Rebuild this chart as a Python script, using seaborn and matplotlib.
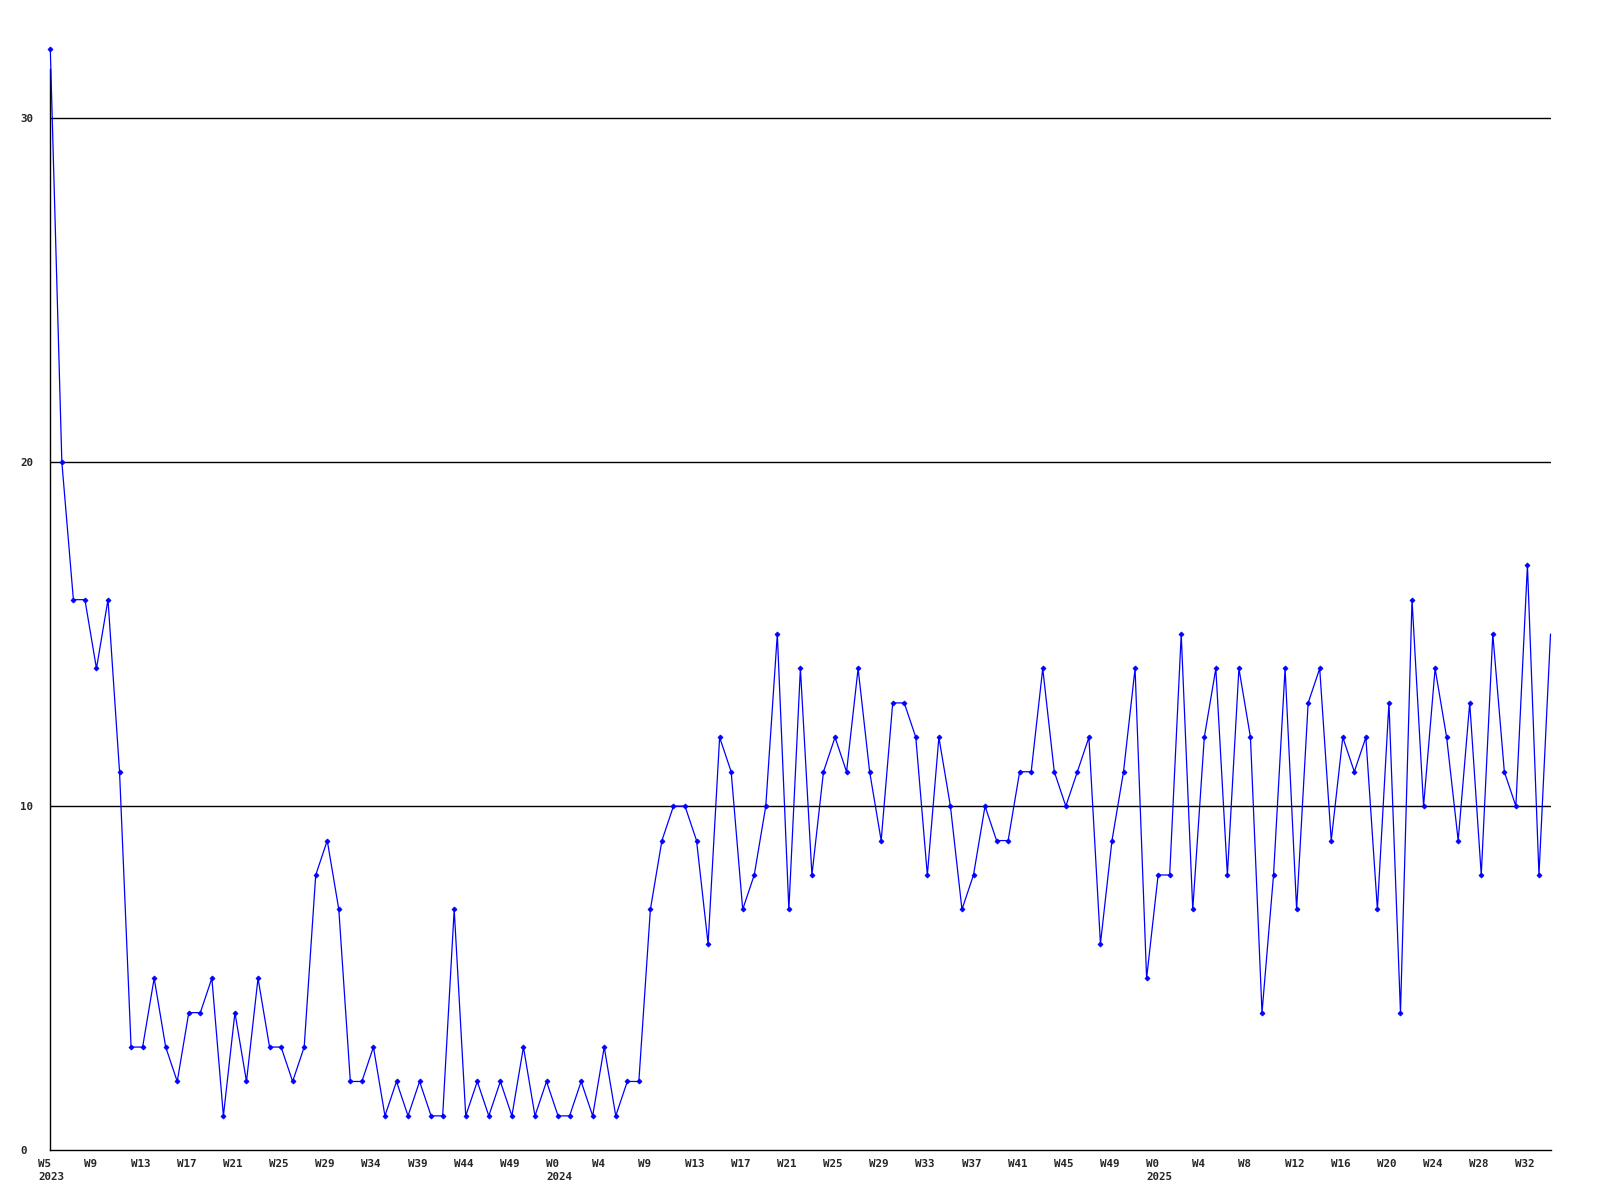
import matplotlib
matplotlib.use("Agg")
import matplotlib.pyplot as plt
import matplotlib.transforms as mtransforms
import seaborn as sns
import pandas as pd

# ---- data (weekly counts, 2023 W5 .. 2025 W34) ----
values = [32, 20, 16, 16, 14, 16, 11, 3, 3, 5,
          3, 2, 4, 4, 5, 1, 4, 2, 5, 3,
          3, 2, 3, 8, 9, 7, 2, 2, 3, 1,
          2, 1, 2, 1, 1, 7, 1, 2, 1, 2,
          1, 3, 1, 2, 1, 1, 2, 1, 3, 1,
          2, 2, 7, 9, 10, 10, 9, 6, 12, 11,
          7, 8, 10, 15, 7, 14, 8, 11, 12, 11,
          14, 11, 9, 13, 13, 12, 8, 12, 10, 7,
          8, 10, 9, 9, 11, 11, 14, 11, 10, 11,
          12, 6, 9, 11, 14, 5, 8, 8, 15, 7,
          12, 14, 8, 14, 12, 4, 8, 14, 7, 13,
          14, 9, 12, 11, 12, 7, 13, 4, 16, 10,
          14, 12, 9, 13, 8, 15, 11, 10, 17, 8,
          15]
week_index = list(range(len(values)))

tick_labels = ["W5\n2023", "W9", "W13", "W17", "W21", "W25", "W29", "W34", "W39",
               "W44", "W49", "W0\n2024", "W4", "W9", "W13", "W17", "W21", "W25",
               "W29", "W33", "W37", "W41", "W45", "W49", "W0\n2025", "W4", "W8",
               "W12", "W16", "W20", "W24", "W28", "W32"]
tick_positions = list(range(0, 4 * len(tick_labels), 4))
y_ticks = [0, 10, 20, 30]

df = pd.DataFrame({"week": week_index, "count": values})

sns.set_style("white")
plt.rcParams["font.family"] = ["DejaVu Sans Mono", "DejaVu Sans"]

fig = plt.figure(figsize=(16, 12), dpi=100)
ax = fig.add_axes([50.3 / 1600, 49.7 / 1200, 1500.2 / 1600, 1081.3 / 1200])

for yv in y_ticks[1:]:
    ax.axhline(yv, color="black", linewidth=1.0, zorder=1)

sns.lineplot(data=df, x="week", y="count", ax=ax, color="#0000ff",
             linewidth=0.9, marker="D", markersize=2.6, markeredgewidth=0.5,
             markeredgecolor="#0000ff", markevery=list(range(len(values) - 1)),
             clip_on=False, zorder=3)

ax.set_xlim(0, len(values) - 1)
ax.set_ylim(0, 31.42)
ax.set_xlabel("")
ax.set_ylabel("")

for s in ["top", "right"]:
    ax.spines[s].set_visible(False)
for s in ["left", "bottom"]:
    ax.spines[s].set_color("black")
    ax.spines[s].set_linewidth(1.0)

ax.set_xticks(tick_positions)
ax.set_xticklabels(tick_labels, fontsize=7.8, fontweight="bold",
                   ha="left", va="top", linespacing=1.45)
ax.set_yticks(y_ticks)
ax.set_yticklabels([str(v) for v in y_ticks], fontsize=7.8, fontweight="bold",
                   ha="left")
ax.tick_params(axis="x", length=0, pad=6)
ax.tick_params(axis="y", length=0, pad=21.5)

offset = mtransforms.ScaledTranslation(-12 / 100, 0, fig.dpi_scale_trans)
for lbl in ax.get_xticklabels():
    lbl.set_transform(lbl.get_transform() + offset)

ax.grid(False)
fig.savefig("out.png", dpi=100, facecolor="white")
